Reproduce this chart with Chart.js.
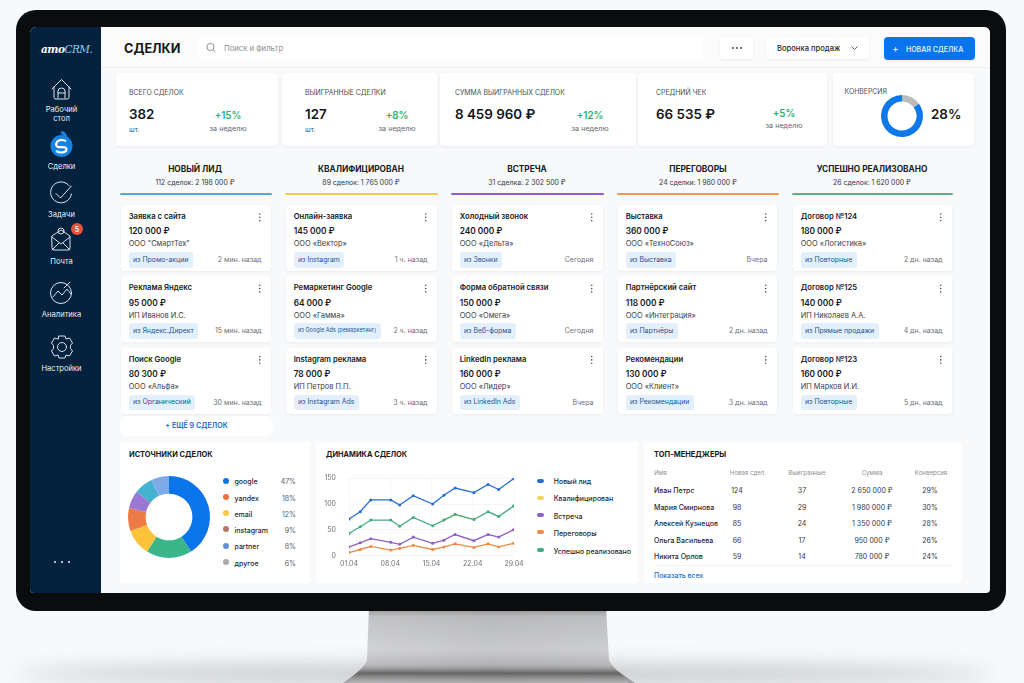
<!DOCTYPE html>
<html lang="ru"><head><meta charset="utf-8">
<script src="https://cdn.jsdelivr.net/npm/chart.js@4"></script>
<style>
html,body{margin:0;padding:0;width:1024px;height:683px;overflow:hidden;background:#f8f9fb;font-family:Inter,"Noto Sans",sans-serif;color:#1b1d22}
#root{position:relative;width:1024px;height:683px;overflow:hidden}
.a{position:absolute;white-space:nowrap;line-height:1}
.card{position:absolute;background:#fff;border-radius:4px;box-shadow:0 1px 3px rgba(40,60,90,.07)}
canvas{position:absolute;display:block}
svg{position:absolute;overflow:visible}
</style></head><body><div id="root"></div>
<script>
/* ---------- data ---------- */
const statLabels=['ВСЕГО СДЕЛОК','ВЫИГРАННЫЕ СДЕЛКИ','СУММА ВЫИГРАННЫХ СДЕЛОК','СРЕДНИЙ ЧЕК'];
const statValues=['382','127','8 459 960 ₽','66 535 ₽'];
const statUnits=['шт.','шт.','',''];
const statDeltas=['+15%','+8%','+12%','+5%'];
const columnNames=['НОВЫЙ ЛИД','КВАЛИФИЦИРОВАН','ВСТРЕЧА','ПЕРЕГОВОРЫ','УСПЕШНО РЕАЛИЗОВАНО'];
const columnSubs=['112 сделок: 2 198 000 ₽','89 сделок: 1 765 000 ₽','31 сделка: 2 302 500 ₽','24 сделки: 1 980 000 ₽','26 сделок: 1 620 000 ₽'];
const dealTitles=[['Заявка с сайта','Реклама Яндекс','Поиск Google'],['Онлайн-заявка','Ремаркетинг Google','Instagram реклама'],['Холодный звонок','Форма обратной связи','LinkedIn реклама'],['Выставка','Партнёрский сайт','Рекомендации'],['Договор №124','Договор №125','Договор №123']];
const dealAmounts=[['120 000 ₽','95 000 ₽','80 300 ₽'],['145 000 ₽','64 000 ₽','78 000 ₽'],['240 000 ₽','150 000 ₽','160 000 ₽'],['360 000 ₽','118 000 ₽','130 000 ₽'],['180 000 ₽','140 000 ₽','160 000 ₽']];
const dealCompanies=[['ООО "СмартТех"','ИП Иванов И.С.','ООО «Альфа»'],['ООО «Вектор»','ООО «Гамма»','ИП Петров П.П.'],['ООО «Дельта»','ООО «Омега»','ООО «Лидер»'],['ООО «ТехноСоюз»','ООО «Интеграция»','ООО «Клиент»'],['ООО «Логистика»','ИП Николаев А.А.','ИП Марков И.И.']];
const dealTags=[['из Промо-акции','из Яндекс.Директ','из Органический'],['из Instagram','из Google Ads (ремаркетинг)','из Instagram Ads'],['из Звонки','из Веб-форма','из LinkedIn Ads'],['из Выставка','из Партнёры','из Рекомендации'],['из Повторные','из Прямые продажи','из Повторные']];
const dealTimes=[['2 мин. назад','15 мин. назад','30 мин. назад'],['1 ч. назад','2 ч. назад','3 ч. назад'],['Сегодня','Сегодня','Вчера'],['Вчера','2 дн. назад','3 дн. назад'],['2 дн. назад','4 дн. назад','5 дн. назад']];
const sourceNames=['google','yandex','email','instagram','partner','другое'];
const sourceShares=['47%','18%','12%','9%','8%','6%'];
const donutSlices=[41,18,10.5,9,7,7.5,7];
const conversionSlices=[15,85];
const dayOffsets=[0,1.9,3.7,7.1,8.6,10.9,14.2,16.1,18,21.2,23.6,25.4,27.9];
const dateLabels=['01.04','08.04','15.04','22.04','29.04'];
const seriesNames=['Новый лид','Квалифицирован','Встреча','Переговоры','Успешно реализовано'];
const newLead=[71,85,108,108,98,116,100,117,131,122,138,128,149];
const qualified=[null,null,null,null,null,null,null,69,80,70,null,null,null];
const meeting=[17,25,33,26,22,36,24,30,41,29,41,36,50];
const negotiation=[6,12,18,11,14,20,12,17,23,16,23,17,24];
const won=[43,56,69,69,57,74,58,69,80,70,85,76,96];
const tableHead=['Имя','Новая сдел.','Выигранные','Сумма','Конверсия'];
const managerNames=['Иван Петрс','Мария Смирнова','Алексей Кузнецов','Ольга Васильева','Никита Орлов'];
const managerNew=['124','98','85','66','59'];
const managerWon=['37','29','24','17','14'];
const managerSum=['2 650 000 ₽','1 980 000 ₽','1 350 000 ₽','950 000 ₽','780 000 ₽'];
const managerConv=['29%','30%','28%','26%','24%'];
const navLabels=[['Рабочий','стол'],['Сделки'],['Задачи'],['Почта'],['Аналитика'],['Настройки']];

/* ---------- helpers ---------- */
const root=document.getElementById('root');
function box(x,y,w,h,css){const d=document.createElement('div');d.style.cssText=`position:absolute;left:${x}px;top:${y}px;width:${w}px;height:${h}px;`+(css||'');root.appendChild(d);return d}
function card(x,y,w,h,css){const d=box(x,y,w,h,css);d.className='card';return d}
function t(x,cy,s,size,color,weight,align){const d=document.createElement('div');d.className='a';d.textContent=s;
 let tx=align==='c'?'-50%':align==='r'?'-100%':'0';
 d.style.cssText=`left:${x}px;top:${cy+0.6}px;font-size:${size}px;color:${color||'#1b1d22'};font-weight:${weight||400};transform:translate(${tx},-50%)`;root.appendChild(d);return d}
function svg(html){const n=document.createElementNS('http://www.w3.org/2000/svg','svg');n.setAttribute('width','1024');n.setAttribute('height','683');n.style.cssText='left:0;top:0';n.innerHTML=html;root.appendChild(n)}
function canvas(x,y,w,h){const c=document.createElement('canvas');c.width=w;c.height=h;c.style.cssText=`left:${x}px;top:${y}px;width:${w}px;height:${h}px`;root.appendChild(c);return c}

/* ---------- monitor ---------- */
svg(`<defs>
<linearGradient id="st" x1="0" x2="1" y1="0" y2="0"><stop offset="0" stop-color="#a9abad"/><stop offset=".03" stop-color="#c9cacc"/><stop offset=".5" stop-color="#bcbdbf"/><stop offset=".97" stop-color="#c3c4c6"/><stop offset="1" stop-color="#9c9ea0"/></linearGradient>
<linearGradient id="stv" x1="0" x2="0" y1="0" y2="1"><stop offset="0" stop-color="#666" stop-opacity=".7"/><stop offset=".13" stop-color="#aaa" stop-opacity=".15"/><stop offset=".55" stop-color="#fff" stop-opacity=".18"/><stop offset=".76" stop-color="#888" stop-opacity=".25"/><stop offset=".87" stop-color="#444" stop-opacity=".75"/><stop offset="1" stop-color="#999" stop-opacity=".4"/></linearGradient>
<filter id="bl" x="-20%" y="-200%" width="140%" height="500%"><feGaussianBlur stdDeviation="10"/></filter></defs>
<ellipse cx="505" cy="674" rx="490" ry="9" fill="#9a9da2" opacity=".6" filter="url(#bl)"/>
<path d="M369 608H606L609 660Q611 668 635 683H343Q365 668 367 660Z" fill="url(#st)"/>
<path d="M369 608H606L609 660Q611 668 635 683H343Q365 668 367 660Z" fill="url(#stv)"/>
<rect x="16" y="10" width="990" height="601" rx="20" fill="#0b0c0e"/>`);
box(30,27,960,566,'background:#f8f9fb;border-radius:6px 6px 4px 4px;overflow:hidden');
box(30,27,71,566,'background:#04213d;border-radius:6px 0 0 4px');
box(101,27,889,40,'background:#fbfbfc;border-radius:0 6px 0 0');
box(101,67,889,1,'background:#eef0f3');

/* ---------- sidebar ---------- */
const logo=document.createElement('div');logo.className='a';
logo.innerHTML='<span style="color:#fff;font-weight:700">amo</span><span style="color:#8fd0f5">CRM.</span>';
logo.style.cssText='left:41px;top:49px;font-size:10.5px;font-style:italic;font-family:"DejaVu Serif",serif;letter-spacing:-.5px;transform:translateY(-50%)';root.appendChild(logo);
const navY=[[109,118.5],[166],[214],[261],[314],[368]];
navLabels.forEach((ls,i)=>ls.forEach((l,j)=>t(61.5,navY[i][j],l,7.6,'#e8eef4',400,'c')));
svg(`<g fill="none" stroke="#dbe4ec" stroke-width="1" stroke-linejoin="round" stroke-linecap="round">
<path d="M52 89L61.5 79.5L71 89M54 87V97.5Q54 99 56 99H67Q69 99 69 97.5V87"/><path d="M58 98V91Q58 88 61.5 88Q65 88 65 91V98M58 93H65"/>
<path d="M69.5 186A10.5 10.5 0 1 0 71.5 194"/><path d="M56 193.5L60.5 198L71.5 186"/>
<path d="M52 236L61 230L70 236V248Q70 250 68 250H54Q52 250 52 248Z"/><path d="M52 237L61 244L70 237M52 250L59 243M70 250L63 243"/><circle cx="61" cy="231" r="3"/>
<circle cx="61" cy="293" r="10.5"/><path d="M53 297L58 291L62 295L67 289L71 294M64 288L70 282"/>
<circle cx="62" cy="347" r="4.5"/><path d="M59 336H65L66 339L69.5 338L72.5 343L70.5 345.5V348.5L72.5 351L69.5 356L66 355L65 358H59L58 355L54.5 356L51.5 351L53.5 348.5V345.5L51.5 343L54.5 338L58 339Z"/></g>
<circle cx="61.5" cy="146" r="11" fill="#1583e6"/><path d="M61 133Q64 132 66 137" stroke="#1583e6" stroke-width="3" fill="none"/>
<path d="M66 141Q58 138 56 144Q56 148 62 147Q68 147 66 151Q62 154 56 151" stroke="#fff" stroke-width="2.2" fill="none"/>
<circle cx="77" cy="229" r="6" fill="#e8503f"/>
<g fill="#dfe6ee"><circle cx="55" cy="562" r="1.1"/><circle cx="62" cy="562" r="1.1"/><circle cx="69" cy="562" r="1.1"/></g>`);
t(77,228.5,'5',7,'#fff',600,'c');

/* ---------- top bar ---------- */
t(124,48,'СДЕЛКИ',12.7,'#15171b',700);
card(198,36,505,24,'box-shadow:none');
t(224,48,'Поиск и фильтр',7.7,'#8a8e95');
svg(`<circle cx="210.5" cy="47" r="3.6" fill="none" stroke="#8c9096"/><path d="M213.2 49.8L215.5 52" stroke="#8c9096"/>`);
card(720,37,33,22);
svg(`<g fill="#333"><circle cx="733" cy="48" r=".9"/><circle cx="737" cy="48" r=".9"/><circle cx="741" cy="48" r=".9"/></g>`);
card(766,37,103,22);
t(777,48,'Воронка продаж',7.6,'#26282d',500);
svg(`<path d="M851.5 46.5L854.5 49.5L857.5 46.5" fill="none" stroke="#666"/>`);
card(884,37,91,23,'background:#0a74f0');
t(895.5,48,'+',9.5,'#dcebff',500,'c');
t(906,48,'НОВАЯ СДЕЛКА',7,'#dcebff',600);

/* ---------- stat cards ---------- */
[[116,162],[282,155],[440,196],[638,189],[833,141]].forEach(c=>card(c[0],73,c[1],73));
const statX=[129,305,455,656], deltaX=[228,397,590,784], deltaY=[115,115,115,113], weekY=[128,128,128,125];
statLabels.forEach((l,i)=>{t(statX[i],92.5,l,6.9,'#4d5057');t(statX[i],114,statValues[i],13.4,'#14161a',600);
 if(statUnits[i])t(statX[i],128.5,statUnits[i],7,'#4d5057');
 t(deltaX[i],deltaY[i],statDeltas[i],9.8,'#2fae66',600,'c');t(deltaX[i],weekY[i],'за неделю',7.2,'#63676e',400,'c');});
t(844.5,91,'КОНВЕРСИЯ',6.9,'#4d5057');
t(931,114,'28%',13.4,'#14161a',600);

/* ---------- kanban ---------- */
const colCenter=[195,361,527,698,872], barX=[[120,152],[285,153],[451,153],[617,162],[792,161]], barColor=['#4fa8e0','#f2c94c','#8e5fc7','#f2994a','#5bb381'];
const cardX=[[121,150],[286,151],[452,151],[618,159],[793,159]], rowY=[205,276.3,347.6];
columnNames.forEach((n,c)=>{
 t(colCenter[c],168,n,8.3,'#17191d',700,'c');t(colCenter[c],182,columnSubs[c],6.9,'#33363b',400,'c');
 box(barX[c][0],192.5,barX[c][1],2.6,`background:${barColor[c]};border-radius:1px`);
 rowY.forEach((y,r)=>{const x=cardX[c][0],w=cardX[c][1];
  card(x,y,w,66);
  t(x+7.7,y+11.5,dealTitles[c][r],7.7,'#17191d',600);
  t(x+7.7,y+25.6,dealAmounts[c][r],8.3,'#17191d',600);
  t(x+7.7,y+38.6,dealCompanies[c][r],7.4,'#3a3d43');
  const tag=t(x+12,y+54,dealTags[c][r],dealTags[c][r].length>20?5.5:6.9,'#25558f',400);
  const bw=tag.getBoundingClientRect().width+9;
  const bg=box(x+7.5,y+47,bw,15.5,'background:#e4effc;border-radius:3px');root.insertBefore(bg,tag);
  t(x+w-9.5,y+53.5,dealTimes[c][r],7,'#6c7076',400,'r');
  svg(`<g fill="#555"><circle cx="${x+w-11.3}" cy="${y+9}" r=".8"/><circle cx="${x+w-11.3}" cy="${y+12.3}" r=".8"/><circle cx="${x+w-11.3}" cy="${y+15.6}" r=".8"/></g>`);
 });
});
card(120,416,153,20,'box-shadow:none;border-radius:8px');
t(196.5,425,'+  ЕЩЁ 9 СДЕЛОК',7.2,'#1c62c0',600,'c');

/* ---------- bottom panels ---------- */
card(120,442,190,141,'box-shadow:none');card(316,442,322,141,'box-shadow:none');card(644,442,318,141,'box-shadow:none');
t(129,454.5,'ИСТОЧНИКИ СДЕЛОК',7.4,'#17191d',700);
t(326,454.5,'ДИНАМИКА СДЕЛОК',7.4,'#17191d',700);
t(654,454,'ТОП-МЕНЕДЖЕРЫ',7.5,'#17191d',700);

const srcDot=['#0a74ea','#ee7040','#fcc740','#b5736a','#5f8fdc','#aaaaaa'], srcY=[480.7,497,513.3,529.3,545.7,562];
sourceNames.forEach((n,i)=>{box(222.6,srcY[i]-3,6,6,`background:${srcDot[i]};border-radius:50%`);
 t(234.5,srcY[i],n,7,'#26282d',500);t(296,srcY[i],sourceShares[i],7,'#5a5d63',400,'r');});

const lineColors=['#2a6fd0','#f2d45c','#8e5fc7','#ee8a45','#42ab7f'], lgY=[480.7,497.7,515.3,532.3,550];
seriesNames.forEach((n,i)=>{box(537,lgY[i]-2,7,4,`background:${lineColors[i]};border-radius:2px`);t(553.7,lgY[i],n,7,'#26282d',500);});

const tabX=[654,748,807,872,931], tabAlign=['l','c','c','c','c'], rowsY=[489.3,506,522.3,539,555.7];
tableHead.forEach((h,i)=>t(tabX[i],472.3,h,6.1,'#8b8e94',400,tabAlign[i]));
managerNames.forEach((n,r)=>{const y=rowsY[r];
 t(654,y,n,7,'#26282d',500);t(737,y,managerNew[r],7,'#34373c',400,'c');t(802,y,managerWon[r],7,'#34373c',400,'c');
 t(872,y,managerSum[r],7,'#34373c',400,'c');t(930,y,managerConv[r],7,'#34373c',400,'c');});
box(655,565,297,1,'background:#f0f1f4');
t(654,575,'Показать всех',6.9,'#1a6fd0',500);

/* ---------- charts ---------- */
const sliceColors=['#0a74ea','#3bb58a','#fcc23a','#ee7a45','#9b78d4','#45b2d2','#7fa9e8'];
new Chart(canvas(119,467,100,100),{type:'doughnut',data:{labels:sliceColors.map((_,i)=>'s'+(i+1)),datasets:[{data:donutSlices,backgroundColor:sliceColors,borderWidth:0}]},
 options:{responsive:false,animation:false,events:[],radius:41,cutout:'57%',plugins:{legend:{display:false},tooltip:{enabled:false}}}});
new Chart(canvas(872,86,60,60),{type:'doughnut',data:{labels:['other','conv'],datasets:[{data:conversionSlices,backgroundColor:['#b9bcb8','#0d78ea'],borderWidth:0}]},
 options:{responsive:false,animation:false,events:[],radius:21,cutout:'69%',plugins:{legend:{display:false},tooltip:{enabled:false}}}});

const pts=a=>a.map((v,i)=>({x:dayOffsets[i],y:v}));
const mk=(label,arr,color)=>({label,data:pts(arr),borderColor:color,backgroundColor:color,borderWidth:1.3,pointRadius:1.5,pointBorderWidth:0,tension:0,spanGaps:false});
new Chart(canvas(320,461,210,114),{type:'line',data:{datasets:[
 mk(seriesNames[0],newLead,lineColors[0]),mk(seriesNames[4],won,lineColors[4]),mk(seriesNames[1],qualified,lineColors[1]),mk(seriesNames[2],meeting,lineColors[2]),mk(seriesNames[3],negotiation,lineColors[3])]},
 options:{responsive:false,animation:false,events:[],layout:{padding:{top:8,right:16,left:0,bottom:0}},
  plugins:{legend:{display:false},tooltip:{enabled:false}},
  scales:{
   x:{type:'linear',min:0,max:28,afterBuildTicks:a=>{a.ticks=dateLabels.map((_,i)=>({value:i*7}))},
    afterFit:s=>{s.height=19.3},
    ticks:{autoSkip:false,maxRotation:0,padding:4,color:'#6f7278',font:{family:'Inter',size:7},callback:v=>dateLabels[v/7]},
    grid:{color:'#f9f9fb',drawTicks:false},border:{display:false}},
   y:{min:0,max:150,afterBuildTicks:a=>{a.ticks=[0,50,100,150].map(v=>({value:v}))},
    afterFit:s=>{s.width=29},
    ticks:{padding:13,color:'#6f7278',font:{family:'Inter',size:7}},
    grid:{color:'#f5f6f8',drawTicks:false},border:{display:false}}}}});
</script></body></html>
